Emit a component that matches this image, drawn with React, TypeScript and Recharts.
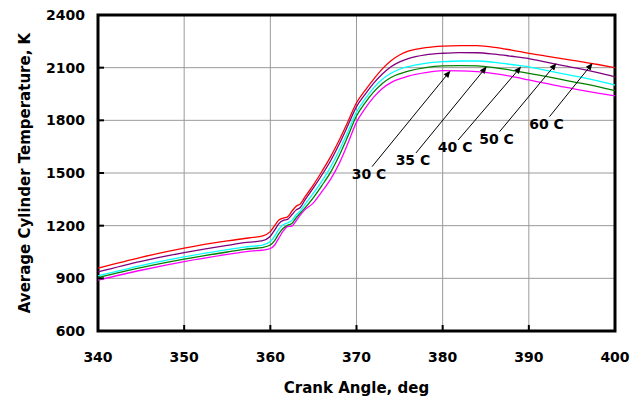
import {
  LineChart, Line, XAxis, YAxis, CartesianGrid, ReferenceArea, ReferenceLine
} from "recharts";

const angles = [340, 345, 350, 355, 357, 358, 359, 360, 360.5, 361, 361.5, 362, 362.5, 363, 363.5, 364, 365, 366, 367, 368, 369, 370, 371, 372, 373, 374, 375, 376, 378, 380, 382, 384, 386, 388, 390, 392, 394, 396, 398, 400];

const t60 = [958, 1020, 1072, 1113, 1127, 1133, 1140, 1166, 1200, 1232, 1243, 1250, 1282, 1310, 1325, 1362, 1432, 1510, 1593, 1688, 1792, 1900, 1970, 2035, 2093, 2140, 2172, 2194, 2214, 2223, 2226, 2225, 2216, 2200, 2182, 2166, 2150, 2135, 2118, 2100];
const t50 = [937, 997, 1047, 1088, 1103, 1108, 1113, 1140, 1175, 1212, 1230, 1236, 1262, 1290, 1305, 1345, 1415, 1490, 1570, 1665, 1770, 1878, 1948, 2012, 2064, 2105, 2133, 2152, 2173, 2182, 2186, 2185, 2177, 2165, 2152, 2132, 2112, 2093, 2072, 2048];
const t40 = [914, 973, 1022, 1063, 1078, 1083, 1088, 1110, 1140, 1180, 1205, 1215, 1230, 1262, 1285, 1320, 1385, 1455, 1535, 1630, 1735, 1848, 1922, 1985, 2034, 2068, 2091, 2106, 2125, 2134, 2138, 2138, 2130, 2118, 2105, 2085, 2065, 2046, 2025, 2001];
const t35 = [904, 961, 1009, 1050, 1065, 1070, 1075, 1090, 1115, 1155, 1185, 1202, 1212, 1245, 1272, 1300, 1360, 1430, 1505, 1600, 1710, 1825, 1900, 1962, 2010, 2044, 2065, 2080, 2100, 2110, 2112, 2110, 2100, 2085, 2068, 2050, 2030, 2012, 1992, 1969];
const t30 = [890, 946, 995, 1036, 1051, 1056, 1060, 1070, 1090, 1130, 1170, 1195, 1198, 1228, 1262, 1290, 1330, 1395, 1465, 1555, 1669, 1790, 1868, 1932, 1982, 2015, 2036, 2052, 2072, 2083, 2082, 2077, 2066, 2050, 2030, 2010, 1990, 1972, 1955, 1939];

const xTicks = [340, 350, 360, 370, 380, 390, 400];
const yTicks = [600, 900, 1200, 1500, 1800, 2100, 2400];

// arrow annotations: label, tail (angle, temp), head (angle, temp)
const notes = [
  { label: "30 C", tail: [371.8, 1536], head: [380.9, 2083] },
  { label: "35 C", tail: [376.9, 1614], head: [385.1, 2106] },
  { label: "40 C", tail: [381.8, 1688], head: [389.1, 2106] },
  { label: "50 C", tail: [386.6, 1735], head: [393.2, 2125] },
  { label: "60 C", tail: [392.4, 1821], head: [397.4, 2126] },
];

const series = [
  { key: "t60", color: "#ff0000" },
  { key: "t50", color: "#800080" },
  { key: "t40", color: "#00ffff" },
  { key: "t35", color: "#008000" },
  { key: "t30", color: "#ff00ff" },
];

const data = angles.map((a, i) => ({
  angle: a, t60: t60[i], t50: t50[i], t40: t40[i], t35: t35[i], t30: t30[i],
}));

const FONT = "'DejaVu Sans', Arial, sans-serif";

const YTick = (props: any) => {
  const { x, y, payload } = props;
  return (
    <g>
      <line x1={x + 13} x2={x + 19} y1={y} y2={y} stroke="#000" strokeWidth={2} />
      <text x={x} y={y} textAnchor="end" dominantBaseline="central" fontFamily={FONT} fontWeight="bold" fontSize={14} fill="#000">
        {payload.value}
      </text>
    </g>
  );
};

const XTick = (props: any) => {
  const { x, y, payload } = props;
  return (
    <g>
      <line x1={x} x2={x} y1={y - 20} y2={y - 26} stroke="#000" strokeWidth={2} />
      <text x={x} y={y + 6} textAnchor="middle" dominantBaseline="central" fontFamily={FONT} fontWeight="bold" fontSize={14} fill="#000">
        {payload.value}
      </text>
    </g>
  );
};

const Arrow = (props: any) => {
  const { x1, y1, x2, y2, text } = props;
  const dx = x2 - x1;
  const dy = y2 - y1;
  const len = Math.sqrt(dx * dx + dy * dy) || 1;
  const ux = dx / len;
  const uy = dy / len;
  const hl = 7;
  const hw = 3;
  const bx = x2 - ux * hl;
  const by = y2 - uy * hl;
  const pts = `${x2},${y2} ${bx - uy * hw},${by + ux * hw} ${bx + uy * hw},${by - ux * hw}`;
  return (
    <g>
      <line x1={x1} y1={y1} x2={bx} y2={by} stroke="#000" strokeWidth={1} />
      <polygon points={pts} fill="#000" />
      <text x={x1 - 3} y={y1 + 7} textAnchor="middle" dominantBaseline="central" fontFamily={FONT} fontWeight="bold" fontSize={14} fill="#000">
        {text}
      </text>
    </g>
  );
};

export default function App() {
  return (
    <div style={{ position: "absolute", left: 0, top: 0, background: "#fff" }}>
      <LineChart width={643} height={403} data={data} margin={{ top: 15, right: 28, bottom: 32, left: 38 }}>
        <CartesianGrid stroke="#9a9a9a" strokeWidth={1} />
        <XAxis
          type="number" dataKey="angle" domain={[340, 400]} ticks={xTicks} height={40}
          axisLine={false} tickLine={false} tickSize={0} tickMargin={20} tick={<XTick />}
          label={{
            content: ({ viewBox }: any) => (
              <text x={viewBox.x + viewBox.width / 2} y={viewBox.y + 57} textAnchor="middle" dominantBaseline="central" fontFamily={FONT} fontWeight="bold" fontSize={15} fill="#000">
                Crank Angle, deg
              </text>
            ),
          }}
        />
        <YAxis
          type="number" domain={[600, 2400]} ticks={yTicks} width={60}
          axisLine={false} tickLine={false} tickSize={0} tickMargin={13} tick={<YTick />}
          label={{
            content: ({ viewBox }: any) => {
              const cx = viewBox.x - 13;
              const cy = viewBox.y + viewBox.height / 2;
              return (
                <text x={cx} y={cy} transform={`rotate(-90, ${cx}, ${cy})`} textAnchor="middle" dominantBaseline="central" fontFamily={FONT} fontWeight="bold" fontSize={15} fill="#000">
                  Average Cylinder Temperature, K
                </text>
              );
            },
          }}
        />
        {series.map((s) => (
          <Line key={s.key} type="monotone" dataKey={s.key} stroke={s.color} strokeWidth={1.3} dot={false} isAnimationActive={false} />
        ))}
        {notes.map((n) => (
          <ReferenceLine
            key={n.label}
            segment={[{ x: n.tail[0], y: n.tail[1] }, { x: n.head[0], y: n.head[1] }]}
            shape={(p: any) => <Arrow {...p} text={n.label} />}
          />
        ))}
        <ReferenceArea x1={340} x2={400} y1={600} y2={2400} fill="none" fillOpacity={0} stroke="#000" strokeWidth={3} ifOverflow="visible" />
      </LineChart>
    </div>
  );
}
